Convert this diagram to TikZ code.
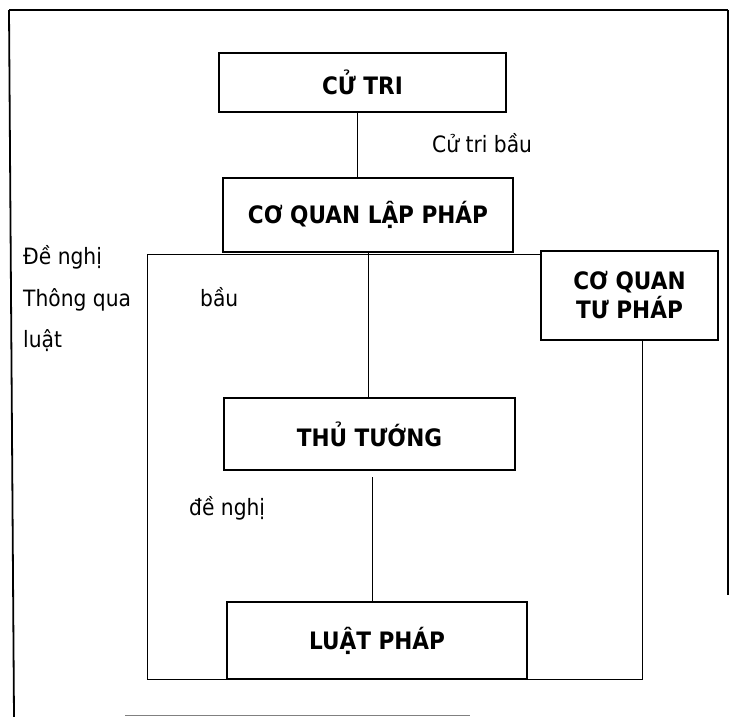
\documentclass[tikz,border=0pt]{standalone}
\usepackage{fontspec}
\setmainfont{DejaVu Sans}[FakeStretch=0.9]
\begin{document}
\begin{tikzpicture}[x=1pt,y=-1pt,
  box/.style={draw,line width=1.5pt,inner sep=0pt,align=center,
    font=\fontsize{24}{29}\selectfont\bfseries},
  conn/.style={line width=1pt},
  lbl/.style={inner sep=0pt,anchor=base west,font=\fontsize{22.5}{27}\selectfont},
  frameline/.style={line width=1.8pt}]
\useasboundingbox (0,0) rectangle (731,717);
% outer frame
\draw[frameline] (9,10) -- (728,10);
\draw[frameline] (9,10) -- (14,717);
\draw[frameline] (728,10) -- (728,595);
\draw[gray,line width=1pt] (125,715) -- (470,715);
% boxes
\node[box,minimum width=287pt,minimum height=59pt] (cutri) at (362.5,82.5) {CỬ TRI};
\node[box,minimum width=290pt,minimum height=74pt] (lapphap) at (368,215) {CƠ QUAN LẬP PHÁP};
\node[box,minimum width=177pt,minimum height=89pt] (tuphap) at (629.5,295.5) {CƠ QUAN\\TƯ PHÁP};
\node[box,minimum width=291pt,minimum height=72pt] (thutuong) at (369.5,434) {THỦ TƯỚNG};
\node[box,minimum width=300pt,minimum height=77pt] (luatphap) at (377,640.5) {LUẬT PHÁP};
% helper coordinates
\coordinate (cA) at (357,112);
\coordinate (L1) at (147,254);
\coordinate (T1) at (372,477);
\coordinate (R1) at (642,340);
% connectors
\draw[conn] (cA) -- (cA |- lapphap.north);
\draw[conn] (tuphap.west |- L1) -- (L1) -- (L1 |- luatphap.south) -- (luatphap.south west);
\draw[conn] (lapphap.south) -- (lapphap.south |- thutuong.north);
\draw[conn] (T1) -- (T1 |- luatphap.north);
\draw[conn] (R1) -- (R1 |- luatphap.south) -- (luatphap.south east);
% labels
\node[lbl] (l1) at (432,152) {Cử tri bầu};
\node[lbl] (l2) at (23,264) {Đề nghị};
\node[lbl] (l3) at (23,306) {Thông qua};
\node[lbl] (l4) at (23,347) {luật};
\node[lbl] (l5) at (200,306) {bầu};
\node[lbl] (l6) at (189,515) {đề nghị};
\end{tikzpicture}
\end{document}
